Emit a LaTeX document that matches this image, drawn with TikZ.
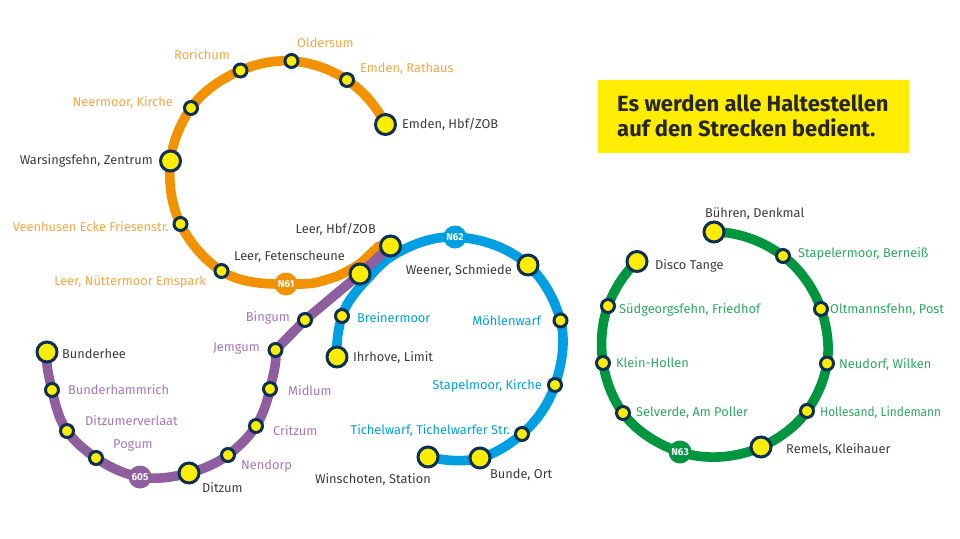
\documentclass[tikz,border=0pt]{standalone}
\usepackage{fontspec}
\setmainfont{Fira Sans}
\usetikzlibrary{backgrounds,calc}
\definecolor{stopring}{HTML}{0B2F55}
\definecolor{stopfill}{HTML}{FFED00}
\definecolor{orangeline}{HTML}{F39200}
\definecolor{orangetext}{HTML}{F7A644}
\definecolor{blueline}{HTML}{009FE3}
\definecolor{purpleline}{HTML}{8F5E9F}
\definecolor{purpletext}{HTML}{A777B5}
\definecolor{greenline}{HTML}{009640}
\definecolor{greentext}{HTML}{2BA85F}
\definecolor{darktext}{HTML}{3C3C3B}
\tikzset{
 hub/.style={circle,draw=stopring,fill=stopfill,line width=3pt,minimum size=20pt,inner sep=0pt},
 halt/.style={circle,draw=stopring,fill=stopfill,line width=3pt,minimum size=13pt,inner sep=0pt},
 badge/.style={circle,inner sep=0pt,minimum size=23pt,text=white,font=\fontsize{10}{10}\selectfont\bfseries},
 lab/.style={inner sep=0pt,yshift=-0.5pt,font=\fontsize{12.8}{14}\selectfont},
 route/.style={line width=9.6pt,line cap=round,line join=round},
}
% clockwise / anticlockwise pieces, each tangent to a circle round #2
\newcommand{\ringcw}[3]{\foreach \a/\b in {#3}{\draw[route,#1] let \p1=(\a.center),\p2=(\b.center),\p0=(#2),\n1={atan2(\y1-\y0,\x1-\x0)},\n2={atan2(\y2-\y0,\x2-\x0)} in (\a.center) to[out=\n1-90,in=\n2+90,looseness=.85] (\b.center);}}
\newcommand{\ringccw}[3]{\foreach \a/\b in {#3}{\draw[route,#1] let \p1=(\a.center),\p2=(\b.center),\p0=(#2),\n1={atan2(\y1-\y0,\x1-\x0)},\n2={atan2(\y2-\y0,\x2-\x0)} in (\a.center) to[out=\n1+90,in=\n2-90,looseness=.85] (\b.center);}}
\begin{document}
\begin{tikzpicture}[x=1pt,y=-1pt]
\useasboundingbox (0,0) rectangle (960,538);
% stops
\node[hub] (eh) at (385.5,124.5) {};
\node[halt] (er) at (347,80) {};
\node[halt] (ol) at (291.5,61) {};
\node[halt] (ro) at (240.5,70.5) {};
\node[halt] (ne) at (191,108) {};
\node[hub] (wa) at (170.5,161) {};
\node[halt] (ve) at (180.5,224) {};
\node[halt] (nu) at (221.5,271) {};
\node[badge,fill=orangeline] (n61) at (286,284) {N61};
\node[hub] (fe) at (360,274) {};
\node[hub] (hb) at (390.5,246) {};
\node[badge,fill=blueline] (n62) at (455,237) {N62};
\node[hub] (we) at (528,265) {};
\node[halt] (mo) at (560.5,320.5) {};
\node[halt] (st) at (555,385) {};
\node[halt] (ti) at (522,434) {};
\node[hub] (bu) at (480,458) {};
\node[hub] (wi) at (428,457) {};
\node[halt] (br) at (342,316) {};
\node[hub] (ih) at (337,357) {};
\node[halt] (bi) at (305,320) {};
\node[halt] (je) at (275.5,350) {};
\node[halt] (mi) at (270,389) {};
\node[halt] (cr) at (256,426) {};
\node[halt] (nd) at (228,455) {};
\node[hub] (di) at (189,473) {};
\node[badge,fill=purpleline] (p605) at (140,477) {605};
\node[halt] (po) at (96,458) {};
\node[halt] (dv) at (67,431) {};
\node[halt] (bh) at (52,390) {};
\node[hub] (bd) at (47,352) {};
\node[hub] (bk) at (714,232) {};
\node[halt] (sb) at (783,256) {};
\node[halt] (op) at (821,309) {};
\node[halt] (nw) at (827,363.5) {};
\node[halt] (hl) at (807,411) {};
\node[hub] (rk) at (761,447) {};
\node[badge,fill=greenline] (n63) at (680,452) {N63};
\node[halt] (se) at (623,413) {};
\node[halt] (kh) at (603,363) {};
\node[halt] (sf) at (608,306) {};
\node[hub] (dt) at (637,261.5) {};
% circle centres and bends of the routes
\coordinate (co) at (284.5,173);
\coordinate (cb) at (450,350);
\coordinate (cp) at (160,365);
\coordinate (cg) at (715,346);
\coordinate (o1) at (322,281);
\coordinate (o2) at (344,273);
\coordinate (o3) at (362,262);
\coordinate (b2) at (370,276);
\coordinate (b3) at (392,256);
% routes
\begin{pgfonlayer}{background}
\ringccw{orangeline}{co}{eh/er,er/ol,ol/ro,ro/ne,ne/wa,wa/ve,ve/nu,nu/n61,n61/o1,o1/o2,o2/o3}
\draw[route,orangeline] (o3) -- (hb.west);
\ringcw{blueline}{cb}{ih/br,br/b2,b2/b3,b3/n62,n62/we,we/mo,mo/st,st/ti,ti/bu,bu/wi}
\draw[route,purpleline] (hb.center) -- (fe.center) -- (bi.center) -- (je.center);
\ringcw{purpleline}{cp}{je/mi,mi/cr,cr/nd,nd/di,di/p605,p605/po,po/dv,dv/bh,bh/bd}
\ringcw{greenline}{cg}{bk/sb,sb/op,op/nw,nw/hl,hl/rk,rk/n63,n63/se,se/kh,kh/sf,sf/dt}
\end{pgfonlayer}
% labels
\begin{scope}[every node/.style={lab}]
\node[anchor=west,text=darktext] (t1) at (402,124) {Emden, Hbf/ZOB};
\node[anchor=west,text=orangetext] (t2) at (360,68) {Emden, Rathaus};
\node[anchor=west,text=orangetext] (t3) at (297,42.5) {Oldersum};
\node[anchor=east,text=orangetext] (t4) at (230,54.5) {Rorichum};
\node[anchor=east,text=orangetext] (t5) at (173,102) {Neermoor, Kirche};
\node[anchor=east,text=darktext] (t6) at (153,160) {Warsingsfehn, Zentrum};
\node[anchor=east,text=orangetext] (t7) at (169,226) {Veenhusen Ecke Friesenstr.};
\node[anchor=east,text=orangetext] (t8) at (206,281) {Leer, Nüttermoor Emspark};
\node[anchor=east,text=darktext] (t9) at (345,256) {Leer, Fetenscheune};
\node[anchor=east,text=darktext] (t10) at (376,229) {Leer, Hbf/ZOB};
\node[anchor=east,text=darktext] (t11) at (512,270) {Weener, Schmiede};
\node[anchor=east,text=blueline] (t12) at (541,320) {Möhlenwarf};
\node[anchor=east,text=blueline] (t13) at (542,385) {Stapelmoor, Kirche};
\node[anchor=east,text=blueline] (t14) at (510,430) {Tichelwarf, Tichelwarfer Str.};
\node[anchor=west,text=darktext] (t15) at (490,474) {Bunde, Ort};
\node[anchor=east,text=darktext] (t16) at (431,479) {Winschoten, Station};
\node[anchor=west,text=blueline] (t17) at (357,317) {Breinermoor};
\node[anchor=west,text=darktext] (t18) at (353,357) {Ihrhove, Limit};
\node[anchor=east,text=purpletext] (t19) at (290,317) {Bingum};
\node[anchor=east,text=purpletext] (t20) at (260,348) {Jemgum};
\node[anchor=west,text=purpletext] (t21) at (288,390) {Midlum};
\node[anchor=west,text=purpletext] (t22) at (273,430) {Critzum};
\node[anchor=west,text=purpletext] (t23) at (241,466) {Nendorp};
\node[anchor=west,text=darktext] (t24) at (202,487) {Ditzum};
\node[anchor=west,text=purpletext] (t25) at (113,445) {Pogum};
\node[anchor=west,text=purpletext] (t26) at (85,420) {Ditzumerverlaat};
\node[anchor=west,text=purpletext] (t27) at (68,389) {Bunderhammrich};
\node[anchor=west,text=darktext] (t28) at (62,353) {Bunderhee};
\node[anchor=west,text=darktext] (t29) at (705,213) {Bühren, Denkmal};
\node[anchor=west,text=greentext] (t30) at (798,253) {Stapelermoor, Berneiß};
\node[anchor=west,text=greentext] (t31) at (830,309) {Oltmannsfehn, Post};
\node[anchor=west,text=greentext] (t32) at (839,364) {Neudorf, Wilken};
\node[anchor=west,text=greentext,xscale=.93] (t33) at (820,412) {Hollesand, Lindemann};
\node[anchor=west,text=darktext] (t34) at (786,449) {Remels, Kleihauer};
\node[anchor=west,text=greentext] (t35) at (636,412) {Selverde, Am Poller};
\node[anchor=west,text=greentext] (t36) at (616,362) {Klein-Hollen};
\node[anchor=west,text=greentext] (t37) at (619,309) {Südgeorgsfehn, Friedhof};
\node[anchor=west,text=darktext] (t38) at (655,265) {Disco Tange};
\end{scope}
% notice
\node[fill=stopfill,minimum width=311pt,minimum height=73pt,inner sep=0pt,anchor=north west] (box) at (598,80) {};
\node[anchor=west,align=left,inner sep=0pt,font=\fontsize{22}{25}\selectfont\bfseries,text=black!85] (boxtext) at (617,116) {Es werden alle Haltestellen\\auf den Strecken bedient.};
\end{tikzpicture}
\end{document}
